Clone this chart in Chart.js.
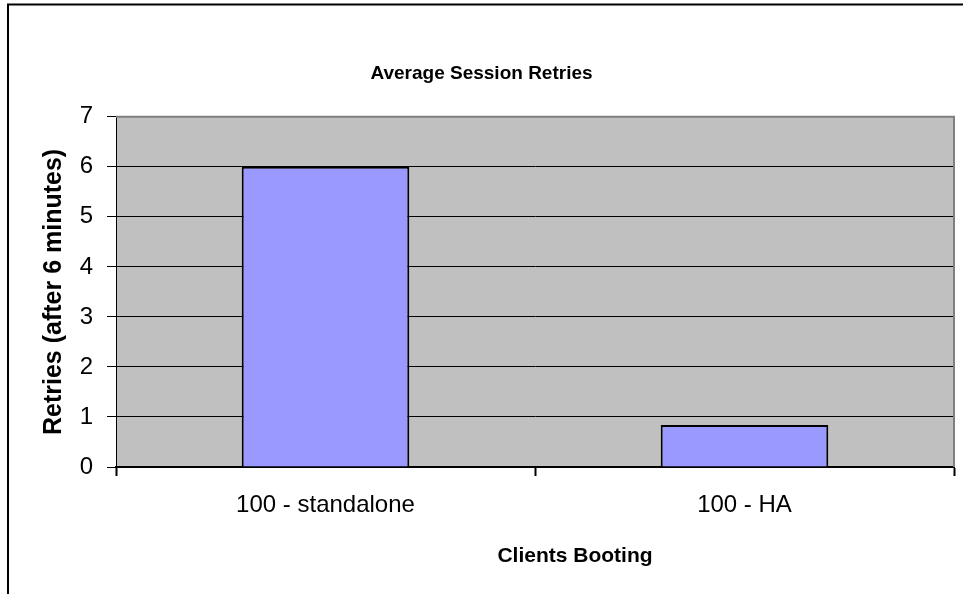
<!DOCTYPE html>
<html>
<head>
<meta charset="utf-8">
<script src="https://cdn.jsdelivr.net/npm/chart.js@4/dist/chart.umd.min.js"></script>
<style>
  html, body { margin: 0; padding: 0; background: #fff; }
  #wrap { width: 963px; height: 594px; }
</style>
</head>
<body>
<div id="wrap"><canvas id="retries-canvas"></canvas></div>
<script>
const categories = ["100 - standalone", "100 - HA"];
const retries = [6, 0.84];
const chartTitle = "Average Session Retries";
const xTitle = "Clients Booting";
const yTitle = "Retries (after 6 minutes)";

const FONT = "'Liberation Sans', Arial, sans-serif";

// grey plot area, border round the plot, the chart frame and the x axis title
const frame = {
  id: "frame",
  beforeDraw(chart) {
    const ctx = chart.ctx;
    const a = chart.chartArea;
    ctx.save();
    ctx.fillStyle = "#ffffff";
    ctx.fillRect(0, 0, chart.width, chart.height);
    ctx.fillStyle = "#c0c0c0";
    ctx.fillRect(a.left, a.top, a.right - a.left, a.bottom - a.top);
    ctx.restore();
  },
  afterDraw(chart) {
    const ctx = chart.ctx;
    const a = chart.chartArea;
    ctx.save();
    ctx.strokeStyle = "#808080";
    ctx.lineWidth = 2;
    ctx.beginPath();
    ctx.moveTo(a.left, a.top);
    ctx.lineTo(a.right, a.top);
    ctx.lineTo(a.right, a.bottom);
    ctx.stroke();
    ctx.strokeStyle = "#000000";
    ctx.beginPath();
    ctx.moveTo(8, chart.height);
    ctx.lineTo(8, 4.5);
    ctx.lineTo(chart.width, 4.5);
    ctx.stroke();

    // axis title sits a little right of the plot centre
    ctx.fillStyle = "#000";
    ctx.font = "bold 21px " + FONT;
    ctx.textAlign = "center";
    ctx.textBaseline = "middle";
    ctx.fillText(xTitle, 575, 556);
    ctx.restore();
  }
};

function retriesConfig() {
  return {
    type: "bar",
    data: {
      labels: categories,
      datasets: [
        {
          label: "Retries",
          data: retries,
          backgroundColor: "#9999ff",
          borderColor: "#000000",
          borderWidth: 2,
          barPercentage: 0.4,
          categoryPercentage: 1.0,
        },
      ],
    },
    options: {
      responsive: true,
      maintainAspectRatio: false,
      animation: false,
      layout: {
        padding: { top: 0, left: 9, right: 9, bottom: 0 }
      },
      plugins: {
        legend: { display: false },
        tooltip: { enabled: false },
        title: {
          display: true,
          text: chartTitle,
          color: "#000",
          font: { family: FONT, size: 19, weight: "bold" },
          padding: { top: 62, bottom: 32 },
        },
      },
      scales: {
        x: {
          afterFit: (scale) => { scale.height = 127; },
          grid: {
            offset: true,
            drawOnChartArea: false,
            drawTicks: true,
            tickLength: 9,
            tickColor: "#000",
            tickWidth: 2,
          },
          border: { color: "#000", width: 2 },
          ticks: {
            color: "#000",
            padding: 15,
            font: { family: FONT, size: 24 },
          },
          title: { display: false },
        },
        y: {
          min: 0,
          max: 7,
          afterFit: (scale) => { scale.width = 107; },
          grid: {
            color: (c) => (c.tick && c.tick.value === 7 ? "#808080" : "#000"),
            lineWidth: 1,
            drawTicks: true,
            tickLength: 9,
            tickColor: "#000",
          },
          border: { color: "#000", width: 1 },
          ticks: {
            stepSize: 1,
            color: "#000",
            padding: 14,
            font: { family: FONT, size: 24 },
          },
          title: {
            display: true,
            text: yTitle,
            color: "#000",
            font: { family: FONT, size: 25, weight: "bold" },
            padding: { top: 30, bottom: 0 },
          },
        },
      },
    },
    plugins: [frame],
  };
}

const ctx = document.getElementById("retries-canvas").getContext("2d");
window.retriesChart = new Chart(ctx, retriesConfig());
</script>
</body>
</html>
